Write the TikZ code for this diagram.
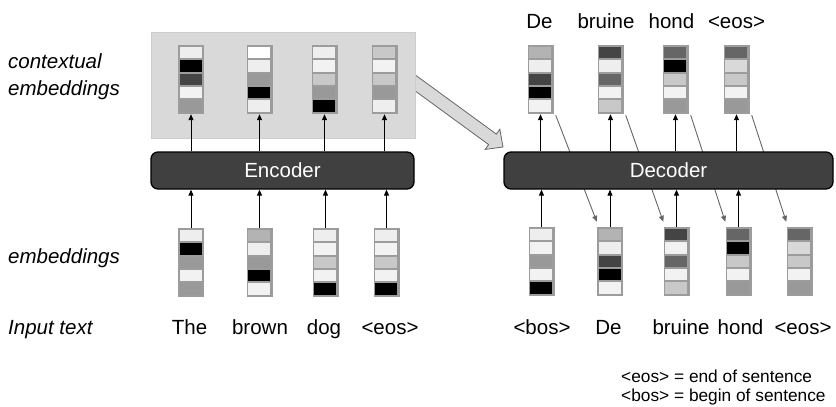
\documentclass[tikz,border=0pt]{standalone}
\usepackage{fontspec}
\setmainfont{Liberation Sans}
\usetikzlibrary{calc,arrows.meta}

% grey levels used for the vector cells
\definecolor{gK}{HTML}{000000}
\definecolor{g44}{HTML}{444444}
\definecolor{g66}{HTML}{666666}
\definecolor{g99}{HTML}{999999}
\definecolor{gB3}{HTML}{B3B3B3}
\definecolor{gC8}{HTML}{C8C8C8}
\definecolor{gD9}{HTML}{D9D9D9}
\definecolor{gEE}{HTML}{EEEEEE}
\definecolor{gF2}{HTML}{F2F2F2}
\definecolor{gFF}{HTML}{FFFFFF}
\definecolor{frameg}{HTML}{9C9C9C}
\definecolor{coderfill}{HTML}{404040}
\definecolor{ctxfill}{HTML}{D9D9D9}
\definecolor{ctxline}{HTML}{CDCDCD}

\tikzset{
  vecframe/.style={fill=frameg, minimum width=26pt, minimum height=69pt, inner sep=0pt},
  coder/.style={draw=black, line width=1.3pt, fill=coderfill, rounded corners=7pt,
    minimum height=37pt, text=white, font=\fontsize{20.5}{24}\selectfont},
  lbl/.style={anchor=base, inner sep=0pt, font=\fontsize{20.5}{24}\selectfont},
  sidelbl/.style={anchor=base west, inner sep=0pt, font=\fontsize{20.5}{24}\selectfont\itshape},
  legendtxt/.style={anchor=base west, inner sep=0pt, font=\fontsize{17.3}{20}\selectfont},
  uparrow/.style={line width=0.9pt, -{Triangle[length=6pt,width=5pt]}},
  feedback/.style={draw=g66, line width=0.9pt, -{Triangle[length=6pt,width=5pt]}},
  bigarrow/.style={draw=g66, line width=0.8pt, fill=ctxfill, line join=miter},
}

% an embedding vector: frame node plus five grey cells
\newcommand\embvec[4]{%
  \node[vecframe] (#1) at (#2,#3) {};
  \foreach \cellcol [count=\cidx] in {#4} {
    \fill[\cellcol] ($(#1.north west)+(2,{2+(\cidx-1)*13.4})$) rectangle ++(22,11.4);
  }%
}

\begin{document}
\begin{tikzpicture}[x=1pt,y=-1pt]
\useasboundingbox (0,0) rectangle (836,407);

% side labels
\node[sidelbl] (lctx) at (8,68) {contextual};
\node[sidelbl] (lctx2) at (8,95) {embeddings};
\node[sidelbl] (lemb) at (8,263) {embeddings};
\node[sidelbl] (linp) at (8,334) {Input text};

% contextual embedding panel and the arrow handing it to the decoder
\path (151,32) coordinate (ctxnw) (415,138) coordinate (ctxse);
\coordinate (arS) at (405,75.5);
\coordinate (arT) at (503,147);
\coordinate (arB) at ($(arT)!13pt!(arS)$);
\draw[bigarrow] ($(arS)!6.5pt!90:(arT)$) -- ($(arB)!6.5pt!90:(arT)$)
  -- ($(arB)!12.5pt!90:(arT)$) -- (arT) -- ($(arB)!12.5pt!-90:(arT)$)
  -- ($(arB)!6.5pt!-90:(arT)$) -- ($(arS)!6.5pt!-90:(arT)$) -- cycle;
\draw[draw=ctxline, fill=ctxfill, line width=0.8pt] (ctxnw) rectangle (ctxse);

% encoder side
\embvec{c1}{191}{79.5}{gEE,gK,g44,gF2,g99}
\embvec{c2}{259.5}{79.5}{gFF,gEE,g99,gK,gEE}
\embvec{c3}{324.5}{79.5}{gEE,gF2,gC8,g99,gK}
\embvec{c4}{384.5}{79.5}{gC8,gF2,gC8,g99,gEE}

\embvec{e1}{191}{262.5}{gEE,gK,g99,gF2,g99}
\embvec{e2}{259.5}{262.5}{gB3,gEE,g99,gK,gF2}
\embvec{e3}{325.5}{262.5}{gEE,gF2,gC8,gF2,gK}
\embvec{e4}{386.5}{262.5}{gEE,gF2,gC8,gF2,gK}

\node[coder, minimum width=263pt] (enc) at (282.5,170.5) {Encoder};
\foreach \v in {c1,c2,c3,c4} \draw[uparrow] (\v.south |- enc.north) -- (\v.south);
\foreach \v in {e1,e2,e3,e4} \draw[uparrow] (\v.north) -- (\v.north |- enc.south);

% decoder side
\embvec{o1}{540.5}{79.5}{gB3,gEE,g44,gK,gF2}
\embvec{o2}{610.5}{79.5}{g44,gEE,g66,gF2,gC8}
\embvec{o3}{675.5}{79.5}{g66,gK,gC8,gF2,g99}
\embvec{o4}{736.5}{79.5}{g66,gD9,gC8,gF2,g99}

\embvec{d1}{541.5}{261.5}{gEE,gF2,g99,gF2,gK}
\embvec{d2}{610}{261.5}{gB3,gEE,g44,gK,gF2}
\embvec{d3}{676.5}{261.5}{g44,gF2,g66,gF2,gC8}
\embvec{d4}{738.5}{261.5}{g66,gK,gC8,gF2,g99}
\embvec{d5}{799.5}{261.5}{g66,gD9,gC8,gF2,g99}

% each output is fed back as the next input
\draw[feedback] ($(o1.south east)+(2,1)$) -- ($(d2.north west)+(0,-5)$);
\draw[feedback] ($(o2.south east)+(2,1)$) -- ($(d3.north west)+(0,-5)$);
\draw[feedback] ($(o3.south east)+(2,1)$) -- ($(d4.north west)+(0,-5)$);
\draw[feedback] ($(o4.south east)+(2,1)$) -- ($(d5.north west)+(0,-5)$);

\node[coder, minimum width=329pt] (dec) at (668.5,170.5) {Decoder};
\foreach \v in {o1,o2,o3,o4} \draw[uparrow] (\v.south |- dec.north) -- (\v.south);
\foreach \v in {d1,d2,d3,d4} \draw[uparrow] (\v.north) -- (\v.north |- dec.south);

% words
\node[lbl] (w1) at (189.5,334) {The};
\node[lbl] (w2) at (260,334) {brown};
\node[lbl] (w3) at (324,334) {dog};
\node[lbl] (w4) at (390,334) {<eos>};

\node[lbl] (b1) at (542,334) {<bos>};
\node[lbl] (b2) at (608.5,334) {De};
\node[lbl] (b3) at (681,334) {bruine};
\node[lbl] (b4) at (740.5,334) {hond};
\node[lbl] (b5) at (803,334) {<eos>};

\node[lbl] (t1) at (539.5,28) {De};
\node[lbl] (t2) at (606,28) {bruine};
\node[lbl] (t3) at (671.5,28) {hond};
\node[lbl] (t4) at (736.5,28) {<eos>};

% legend
\node[legendtxt] (leg1) at (621,382) {<eos> = end of sentence};
\node[legendtxt] (leg2) at (621,401) {<bos> = begin of sentence};
\end{tikzpicture}
\end{document}
